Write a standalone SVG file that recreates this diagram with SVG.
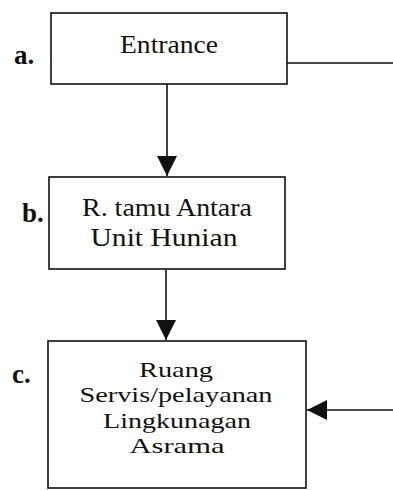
<svg xmlns="http://www.w3.org/2000/svg" width="393" height="490" viewBox="0 0 393 490">
<style>
.box{fill:#fff;stroke:#111;stroke-width:1.6}
.t{font-family:"Liberation Serif","Times New Roman",serif;font-size:25px;fill:#111;text-anchor:middle}
.tc{font-size:22px}
.lbl{font-family:"Liberation Serif","Times New Roman",serif;font-size:27px;font-weight:bold;fill:#111}
.ln{stroke:#111;stroke-width:1.6;fill:none}
</style>
<defs>
<marker id="ah" viewBox="0 0 20 20" refX="20" refY="10" markerWidth="20" markerHeight="20" markerUnits="userSpaceOnUse" orient="auto">
<path d="M0,0 L20,10 L0,20 Z" fill="#111"/>
</marker>
</defs>
<rect width="393" height="490" fill="#fff"/>
<g id="connectors">
<line class="ln" x1="167" y1="84" x2="167" y2="176" marker-end="url(#ah)"/>
<line class="ln" x1="166" y1="270" x2="166" y2="340" marker-end="url(#ah)"/>
<line class="ln" x1="287" y1="63" x2="393" y2="63"/>
<line class="ln" x1="393" y1="410" x2="307" y2="410" marker-end="url(#ah)"/>
</g>
<g id="node-a">
<rect class="box" x="51" y="13" width="236" height="71"/>
<text class="lbl" x="14" y="64">a.</text>
<text class="t" x="169" y="53" textLength="98" lengthAdjust="spacingAndGlyphs">Entrance</text>
</g>
<g id="node-b">
<rect class="box" x="49" y="177" width="236" height="92"/>
<text class="lbl" x="22" y="222">b.</text>
<text class="t" x="167" y="216" textLength="170" lengthAdjust="spacingAndGlyphs">R. tamu Antara</text>
<text class="t" x="164" y="246" textLength="147" lengthAdjust="spacingAndGlyphs">Unit Hunian</text>
</g>
<g id="node-c">
<rect class="box" x="48" y="341" width="258" height="147"/>
<text class="lbl" x="12" y="383">c.</text>
<text class="t tc" x="176" y="377" textLength="74" lengthAdjust="spacingAndGlyphs">Ruang</text>
<text class="t tc" x="176" y="402" textLength="193" lengthAdjust="spacingAndGlyphs">Servis/pelayanan</text>
<text class="t tc" x="177" y="428" textLength="148" lengthAdjust="spacingAndGlyphs">Lingkunagan</text>
<text class="t tc" x="177" y="453" textLength="95" lengthAdjust="spacingAndGlyphs">Asrama</text>
</g>
</svg>
